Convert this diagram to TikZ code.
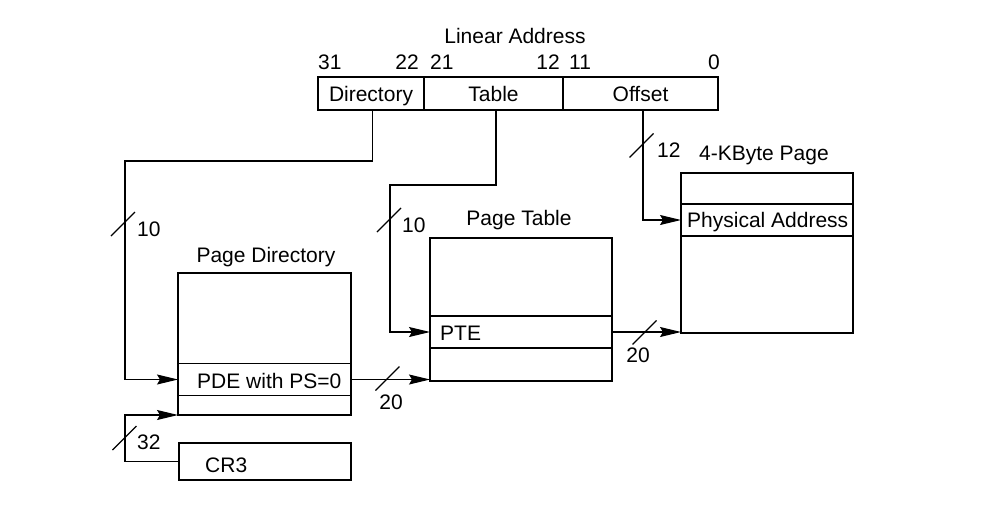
\documentclass[tikz,border=0pt]{standalone}
\usepackage{fontspec}
\setmainfont{Liberation Sans}
\usetikzlibrary{arrows.meta}
\begin{document}
\begin{tikzpicture}[x=1pt,y=-1pt,
  font=\fontsize{21}{25}\selectfont,
  box/.style={draw, line width=1.4pt, inner sep=0pt, outer sep=0pt, anchor=north west},
  row/.style={draw, line width=1.1pt, inner sep=0pt, outer sep=0pt, anchor=north west},
  field/.style={box, text height=15pt, text depth=0pt},
  conn/.style={line width=1.1pt},
  arr/.style={conn, -{Stealth[length=21pt,width=10pt,inset=3pt]}},
  txt/.style={inner sep=0pt, anchor=base west},
  rtxt/.style={inner sep=0pt, anchor=base east},
  ctxt/.style={inner sep=0pt, anchor=base},
  busslash/.pic={\draw[conn] (-12,12) -- (12,-12);}
]
\useasboundingbox (0,0) rectangle (992,512);

% linear address fields
\node[ctxt] (latitle) at (515,43) {Linear Address};
\node[txt]  (b31) at (318,69) {31};
\node[rtxt] (b22) at (419,69) {22};
\node[txt]  (b21) at (430,69) {21};
\node[rtxt] (b12) at (560,69) {12};
\node[txt]  (b11) at (569,69) {11};
\node[rtxt] (b0)  at (720,69) {0};
\node[field, minimum width=106pt, minimum height=33pt] (dir) at (318,77) {Directory};
\node[field, minimum width=139pt, minimum height=33pt] (tab) at (424,77) {Table};
\node[field, minimum width=155pt, minimum height=33pt] (off) at (563,77) {Offset};

% page directory
\node[ctxt] (pdtitle) at (266,262) {Page Directory};
\node[box, minimum width=173pt, minimum height=142pt] (pdbox) at (178,273) {};
\node[row, minimum width=173pt, minimum height=32pt] (pde) at (178,363.5) {};
\node[txt] (pdetext) at (197,388) {PDE with PS=0};

% CR3
\node[box, minimum width=172pt, minimum height=37pt] (cr3) at (179,443) {};
\node[txt] (cr3text) at (205,472) {CR3};

% page table
\node[ctxt] (pttitle) at (519,225) {Page Table};
\node[box, minimum width=182pt, minimum height=143pt] (ptbox) at (430,238) {};
\node[row, minimum width=182pt, minimum height=32pt] (pte) at (430,316) {};
\node[txt] (ptetext) at (440,340) {PTE};

% 4-KByte page
\node[ctxt] (pgtitle) at (764,160) {4-KByte Page};
\node[box, minimum width=172pt, minimum height=160pt] (pgbox) at (681,173) {};
\node[row, minimum width=172pt, minimum height=32pt] (phys) at (681,204) {};
\node[txt] (phystext) at (687,227.5) {Physical Address};

% routing corners
\coordinate (d1) at (125,161);
\coordinate (t1) at (390,185);
\coordinate (c1) at (125,415);

% connectors
\draw[arr] ([xshift=1.7pt]dir.south) |- (d1) |- (pde.west);
\draw[arr] ([xshift=2.5pt]tab.south) |- (t1) |- (pte.west);
\draw[arr] ([xshift=2.5pt]off.south) |- (phys.west);
\draw[arr] (pde.east) -- (pde.east -| ptbox.west);
\draw[arr] (pte.east) -- (pte.east -| pgbox.west);
\draw[arr] (cr3.west) -| (c1) -- (pdbox.south west);

% bus width marks
\pic at (123,224) {busslash};
\node[txt] (w10a) at (137,236) {10};
\pic at (389,220) {busslash};
\node[txt] (w10b) at (402,232) {10};
\pic at (641.5,145.5) {busslash};
\node[txt] (w12) at (657,157) {12};
\pic at (387.5,378.5) {busslash};
\node[ctxt] (w20a) at (391,409) {20};
\pic at (644.5,332.5) {busslash};
\node[ctxt] (w20b) at (638,362) {20};
\pic at (124.5,438) {busslash};
\node[txt] (w32) at (137,449) {32};
\end{tikzpicture}
\end{document}
